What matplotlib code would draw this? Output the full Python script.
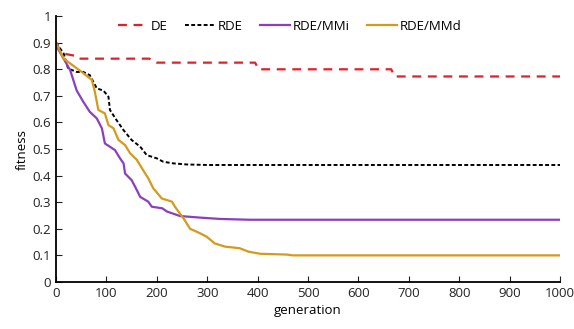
import matplotlib.pyplot as plt

plt.rcParams['font.family'] = ['Open Sans', 'DejaVu Sans']

# generation / fitness
de_x = [0, 8, 12, 40, 45, 185, 200, 395, 402, 665, 672, 1000]
de_y = [0.90, 0.87, 0.86, 0.85, 0.84, 0.84, 0.825, 0.825, 0.80, 0.80, 0.773, 0.773]

rde_x = [0, 15, 24, 41, 54, 67, 81, 94, 104, 107, 120, 134, 150, 167, 180, 200, 213, 233, 259, 300, 1000]
rde_y = [0.90, 0.86, 0.803, 0.79, 0.79, 0.778, 0.728, 0.72, 0.697, 0.647, 0.609, 0.571, 0.534, 0.509, 0.477, 0.465, 0.452, 0.446, 0.442, 0.44, 0.44]

mmi_x = [0, 15, 28, 41, 54, 67, 81, 91, 97, 117, 127, 134, 137, 150, 157, 167, 183, 190, 211, 220, 246, 286, 326, 385, 1000]
mmi_y = [0.89, 0.84, 0.797, 0.72, 0.678, 0.64, 0.615, 0.578, 0.521, 0.496, 0.465, 0.446, 0.408, 0.383, 0.358, 0.32, 0.302, 0.283, 0.277, 0.265, 0.248, 0.242, 0.237, 0.234, 0.234]

mmd_x = [0, 15, 28, 51, 71, 77, 84, 97, 104, 114, 124, 137, 147, 160, 173, 183, 193, 210, 230, 236, 253, 266, 286, 299, 315, 335, 364, 382, 405, 458, 470, 1000]
mmd_y = [0.90, 0.84, 0.822, 0.79, 0.76, 0.716, 0.647, 0.634, 0.59, 0.578, 0.534, 0.515, 0.484, 0.46, 0.42, 0.39, 0.352, 0.314, 0.302, 0.283, 0.239, 0.20, 0.183, 0.17, 0.145, 0.133, 0.127, 0.114, 0.106, 0.103, 0.10, 0.10]

fig = plt.figure(figsize=(5.74, 3.29), dpi=100)
ax = fig.add_axes([0.0976, 0.143, 0.878, 0.808])

ax.plot(de_x, de_y, color='#e3202a', linestyle=(0, (4, 3)), linewidth=1.6, label='DE')
ax.plot(rde_x, rde_y, color='black', linestyle=(0, (2, 1.2)), linewidth=1.4, label='RDE')
ax.plot(mmi_x, mmi_y, color='#8a3fbf', linewidth=1.6, label='RDE/MMi')
ax.plot(mmd_x, mmd_y, color='#d49a1c', linewidth=1.6, label='RDE/MMd')

ax.set_xlim(0, 1000)
ax.set_ylim(0, 1)
ax.set_xticks(range(0, 1001, 100))
ax.set_yticks([i / 10 for i in range(11)])
ax.set_yticklabels(['0', '0.1', '0.2', '0.3', '0.4', '0.5', '0.6', '0.7', '0.8', '0.9', '1'])
ax.tick_params(direction='in', length=4, labelsize=9.5, colors='#222222')
ax.spines['top'].set_visible(False)
ax.spines['right'].set_visible(False)
ax.spines['left'].set_linewidth(1.3)
ax.spines['bottom'].set_linewidth(1.3)

ax.set_xlabel('generation', fontsize=9.5, labelpad=3)
ax.set_ylabel('fitness', fontsize=9.5, labelpad=3)

ax.legend(loc='upper center', bbox_to_anchor=(0.464, 1.03), ncol=4, frameon=False,
          fontsize=9.5, handlelength=2.3, handletextpad=0.2, columnspacing=1.3)

fig.savefig('out.png', dpi=100)
